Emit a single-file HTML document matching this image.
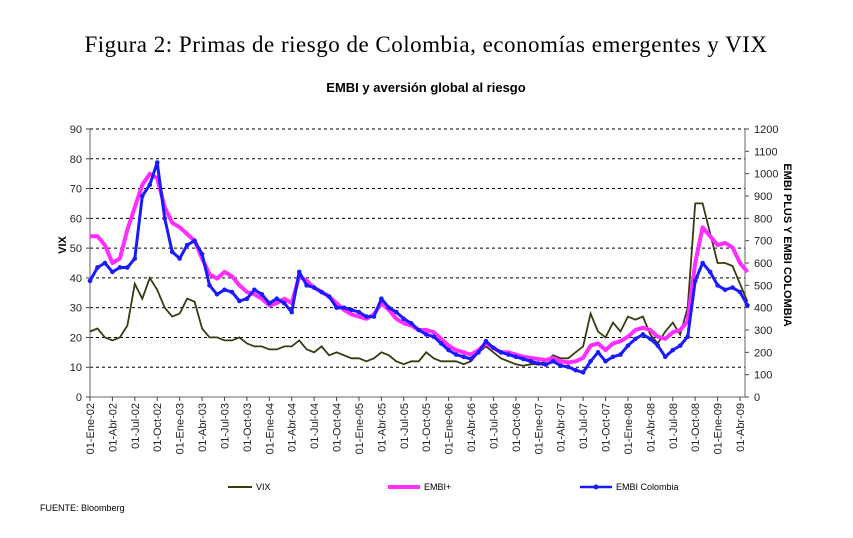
<!DOCTYPE html>
<html><head><meta charset="utf-8"><style>
body{margin:0;background:#fff;width:853px;height:538px;overflow:hidden}
svg{display:block}
text{font-family:"Liberation Sans",sans-serif}
</style></head><body>
<svg width="853" height="538">
<text x="426" y="52" text-anchor="middle" font-size="23" letter-spacing="0.5" style="font-family:'Liberation Serif',serif">Figura 2: Primas de riesgo de Colombia, economías emergentes y VIX</text>
<text x="426" y="92" text-anchor="middle" font-size="13" font-weight="bold">EMBI y aversión global al riesgo</text>
<g id="grid"></g><g id="axes"></g><g id="series"></g>
<text transform="translate(66,245) rotate(-90)" text-anchor="middle" font-size="11" font-weight="bold">VIX</text>
<text transform="translate(784,245) rotate(90)" text-anchor="middle" font-size="11" font-weight="bold">EMBI PLUS Y EMBI COLOMBIA</text>
<g font-size="9">
<line x1="228" y1="487" x2="252" y2="487" stroke="#3a3a10" stroke-width="2"/>
<text x="256" y="490">VIX</text>
<line x1="388" y1="487" x2="420" y2="487" stroke="#ff2dff" stroke-width="4"/>
<text x="424" y="490">EMBI+</text>
<line x1="580" y1="487" x2="612" y2="487" stroke="#1a1aff" stroke-width="2.5"/>
<circle cx="596" cy="487" r="2.5" fill="#1a1aff"/>
<text x="616" y="490">EMBI Colombia</text>
</g>
<text x="40" y="511" font-size="9">FUENTE: Bloomberg</text>
</svg>
<script>
const quarterLabels=["01-Ene-02","01-Abr-02","01-Jul-02","01-Oct-02","01-Ene-03","01-Abr-03","01-Jul-03","01-Oct-03","01-Ene-04","01-Abr-04","01-Jul-04","01-Oct-04","01-Ene-05","01-Abr-05","01-Jul-05","01-Oct-05","01-Ene-06","01-Abr-06","01-Jul-06","01-Oct-06","01-Ene-07","01-Abr-07","01-Jul-07","01-Oct-07","01-Ene-08","01-Abr-08","01-Jul-08","01-Oct-08","01-Ene-09","01-Abr-09"];
const leftTicks=[0,10,20,30,40,50,60,70,80,90];
const rightTicks=[0,100,200,300,400,500,600,700,800,900,1000,1100,1200];
const vix=[22,23,20,19,20,24,38,33,40,36,30,27,28,33,32,23,20,20,19,19,20,18,17,17,16,16,17,17,19,16,15,17,14,15,14,13,13,12,13,15,14,12,11,12,12,15,13,12,12,12,11,12,15,17,15,13,12,11,10.5,11,11,12,14,13,13,15,17,28,22,20,25,22,27,26,27,21,18,22,25,21,30,65,65,55,45,45,44,38,32];
const embiPlus=[720,720,680,600,620,750,850,950,1000,980,850,780,760,730,700,620,550,530,560,540,500,470,460,440,410,420,440,420,540,520,490,470,450,420,390,370,360,350,370,420,390,350,330,320,300,300,290,260,230,210,200,190,210,240,220,200,200,190,180,175,170,165,175,160,155,160,175,230,240,210,240,250,270,300,310,300,270,260,290,300,340,600,760,720,680,690,670,600,560];
const embiCol=[520,580,600,560,580,580,620,900,950,1050,800,650,620,680,700,640,500,460,480,470,430,440,480,460,420,440,420,380,560,500,490,470,450,400,400,390,380,360,360,440,400,380,350,330,300,280,270,240,210,190,180,170,200,250,220,200,190,180,170,160,150,145,160,140,135,120,110,160,200,160,180,190,230,260,280,260,230,180,210,230,270,520,600,560,500,480,490,470,410];
const NS="http://www.w3.org/2000/svg";
const X0=90,X1=745,YT=129,YB=397;
const xm=i=>X0+i*(650/87);
const yL=v=>YB-(v/90)*(YB-YT);
const yR=v=>YB-(v/1200)*(YB-YT);
function mk(tag,attrs,parent){const e=document.createElementNS(NS,tag);for(const k in attrs)e.setAttribute(k,attrs[k]);parent.appendChild(e);return e;}
const grid=document.getElementById('grid'),axes=document.getElementById('axes'),ser=document.getElementById('series');
leftTicks.forEach(t=>{
 if(t>0){const g=mk('line',{x1:X0,x2:X1,y1:yL(t),y2:yL(t),stroke:'#000','stroke-width':1,'stroke-dasharray':'3,3'},grid);
 
 }
 mk('line',{x1:X0-4,x2:X0,y1:yL(t),y2:yL(t),stroke:'#444'},axes);
 const tx=mk('text',{x:X0-8,y:yL(t)+4,'text-anchor':'end','font-size':11,fill:'#222'},axes);tx.textContent=t;
 
 
});
rightTicks.forEach(t=>{
 mk('line',{x1:X1,x2:X1+4,y1:yR(t),y2:yR(t),stroke:'#444'},axes);
 const tx=mk('text',{x:X1+9,y:yR(t)+4,'font-size':11,fill:'#222'},axes);tx.textContent=t;
 
 
});
mk('line',{x1:X0,x2:X0,y1:YT,y2:YB,stroke:'#666'},axes);
mk('line',{x1:X1,x2:X1,y1:YT,y2:YB,stroke:'#666'},axes);
mk('line',{x1:X0,x2:X1,y1:YB,y2:YB,stroke:'#666'},axes);
quarterLabels.forEach((l,q)=>{
 const x=xm(q*3);
 mk('line',{x1:x,x2:x,y1:YB,y2:YB+4,stroke:'#444'},axes);
 const tx=mk('text',{transform:`translate(${x+4},${YB+6}) rotate(-90)`,'text-anchor':'end','font-size':11,fill:'#222'},axes);tx.textContent=l;
 
 
});
function path(arr,yf){return arr.map((v,i)=>(i?'L':'M')+xm(i).toFixed(1)+','+yf(v).toFixed(1)).join('');}
const pv=mk('path',{d:path(vix,yL),fill:'none',stroke:'#3a3a10','stroke-width':1.8},ser);


const pe=mk('path',{d:path(embiPlus,yR),fill:'none',stroke:'#ff2dff','stroke-width':4,'stroke-linejoin':'round'},ser);


const pc=mk('path',{d:path(embiCol,yR),fill:'none',stroke:'#1a1aff','stroke-width':3,'stroke-linejoin':'round'},ser);


embiCol.forEach((v,i)=>{
 const c=mk('circle',{cx:xm(i),cy:yR(v),r:2.3,fill:'#1a1aff'},ser);
 
 
});
</script>
</body></html>
